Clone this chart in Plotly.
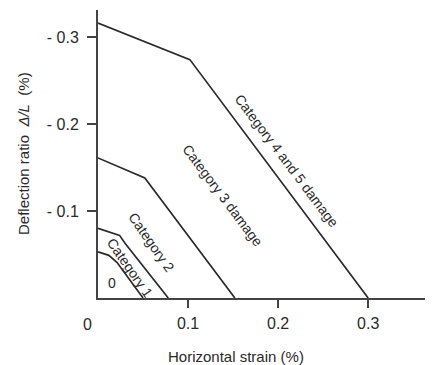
import plotly.graph_objects as go

# Boundary curves (horizontal strain %, deflection ratio %)
cat1_x = [0.0, 0.012, 0.021, 0.050]
cat1_y = [0.053, 0.049, 0.041, 0.0]
cat2_x = [0.0, 0.024, 0.030, 0.078]
cat2_y = [0.080, 0.072, 0.063, 0.0]
cat3_x = [0.0, 0.052, 0.152]
cat3_y = [0.161, 0.138, 0.0]
cat45_x = [0.0, 0.102, 0.30]
cat45_y = [0.316, 0.274, 0.0]

x_tickvals = [0.1, 0.2, 0.3]
x_ticktext = ["0.1", "0.2", "0.3"]
y_tickvals = [0.1, 0.2, 0.3]
y_ticktext = ["- 0.1", "- 0.2", "- 0.3"]

labels = ["0", "Category 1", "Category 2", "Category 3 damage", "Category 4 and 5 damage"]
label_x = [0.016, 0.036, 0.059, 0.138, 0.210]
label_y = [0.017, 0.035, 0.064, 0.118, 0.158]
label_ang = [0, 55, 55, 53, 53]

INK = "#2a2a2a"
FONT = "Liberation Sans"
fig = go.Figure()
for xs, ys in [(cat1_x, cat1_y), (cat2_x, cat2_y), (cat3_x, cat3_y), (cat45_x, cat45_y)]:
    fig.add_trace(go.Scatter(x=xs, y=ys, mode="lines",
                             line=dict(color=INK, width=1.7), showlegend=False,
                             hoverinfo="skip"))

for t, x, y, a in zip(labels, label_x, label_y, label_ang):
    fig.add_annotation(x=x, y=y, text=t, textangle=a, showarrow=False,
                       font=dict(family=FONT, size=14, color=INK))

# origin label
fig.add_annotation(x=0, y=0, text="0", showarrow=False, xanchor="center", yanchor="middle",
                   xshift=-11, yshift=-26,
                   font=dict(family=FONT, size=16, color=INK))

# axis titles
fig.add_annotation(xref="paper", yref="paper", x=0, y=0.5, xshift=-75,
                   xanchor="center", yanchor="middle",
                   text="Deflection ratio  <i>Δ/L</i>  (%)", textangle=-90, showarrow=False,
                   font=dict(family=FONT, size=15, color=INK))
fig.add_annotation(xref="paper", yref="paper", x=0.412, y=0, yshift=-58,
                   xanchor="center", yanchor="middle",
                   text="Horizontal strain (%)", showarrow=False,
                   font=dict(family=FONT, size=15, color=INK))

fig.update_layout(
    width=433, height=365,
    margin=dict(l=90, r=8, t=2, b=75),
    paper_bgcolor="white", plot_bgcolor="white",
    font=dict(family=FONT, size=16, color=INK),
)
fig.update_xaxes(range=[0, 0.372], showgrid=False, zeroline=False,
                 showline=True, linecolor="#444444", linewidth=2,
                 ticks="outside", ticklen=8, tickwidth=2, tickcolor="#444444",
                 ticklabelstandoff=2,
                 tickvals=x_tickvals, ticktext=x_ticktext)
fig.update_yaxes(range=[0, 0.331], showgrid=False, zeroline=False,
                 showline=True, linecolor="#444444", linewidth=2,
                 ticks="outside", ticklen=9, tickwidth=2, tickcolor="#444444",
                 ticklabelstandoff=5,
                 tickvals=y_tickvals, ticktext=y_ticktext)

fig.write_html("out.html")
